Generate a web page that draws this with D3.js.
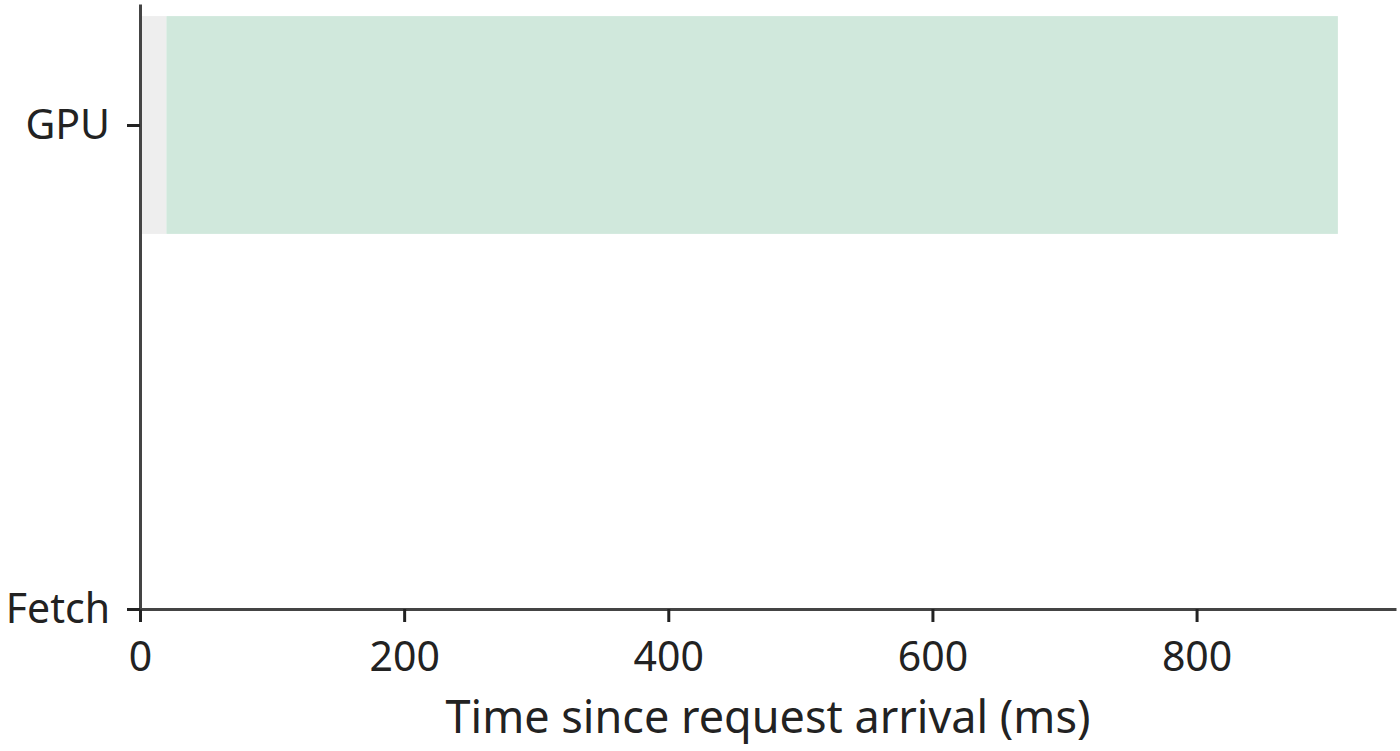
<!DOCTYPE html>
<html>
<head>
<meta charset="utf-8">
<script src="https://cdn.jsdelivr.net/npm/d3@7"></script>
<style>
  body { margin: 0; background: #fff; }
  text { font-family: "Noto Sans", sans-serif; fill: #222; }
</style>
</head>
<body>
<svg width="1400" height="751"></svg>
<script>
// lanes, bottom to top
const categories = ['Fetch', 'GPU'];
// timeline segments (ms since request arrival)
const segLane  = ['GPU', 'GPU'];
const segStart = [0, 20];
const segEnd   = [20, 907];
const segColor = ['#eeeeee', '#d0e8dc'];
const xTicks = [0, 200, 400, 600, 800];

const margin = { top: 4, right: 4, bottom: 142, left: 140 };
const width = 1400 - margin.left - margin.right;
const height = 751 - margin.top - margin.bottom;

const svg = d3.select('svg')
    .append('g')
    .attr('transform', `translate(${margin.left},${margin.top})`);

const x = d3.scaleLinear()
    .domain([0, 951])
    .range([0, width]);

const y = d3.scaleLinear()
    .domain([0, 1.25])
    .range([height, 0]);

const laneIndex = c => categories.indexOf(c);
const barHalf = 0.225;

const segs = segStart.map((s, i) => ({ lane: segLane[i], start: s, end: segEnd[i], color: segColor[i] }));

svg.selectAll('.seg')
    .data(segs)
    .enter().append('rect')
    .attr('class', 'seg')
    .attr('x', d => x(d.start))
    .attr('width', d => x(d.end) - x(d.start))
    .attr('y', d => y(laneIndex(d.lane) + barHalf))
    .attr('height', d => y(laneIndex(d.lane) - barHalf) - y(laneIndex(d.lane) + barHalf))
    .attr('fill', d => d.color);

const xAxis = svg.append('g')
    .attr('transform', `translate(0,${height})`)
    .call(d3.axisBottom(x).tickValues(xTicks).tickSize(13).tickPadding(20).tickSizeOuter(0));

const yAxis = svg.append('g')
    .call(d3.axisLeft(y)
        .tickValues(categories.map((c, i) => i))
        .tickFormat(i => categories[i])
        .tickSize(13).tickPadding(17).tickSizeOuter(0));

[xAxis, yAxis].forEach(g => {
    g.select('.domain').attr('stroke', '#444').attr('stroke-width', 3);
    g.selectAll('.tick line').attr('stroke', '#222').attr('stroke-width', 3);
    g.selectAll('.tick text').attr('font-size', 41).attr('fill', '#222');
});

svg.append('text')
    .attr('text-anchor', 'middle')
    .attr('x', width / 2)
    .attr('y', 733 - margin.top)
    .attr('font-size', 45)
    .text('Time since request arrival (ms)');
</script>
</body>
</html>
